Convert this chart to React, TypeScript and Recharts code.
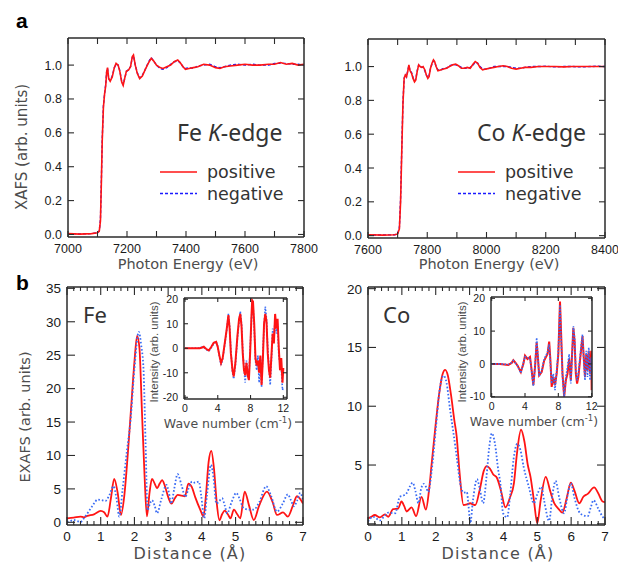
import { LineChart, Line, XAxis, YAxis } from "recharts";

const W = 618;
const H = 565;

type Pt = [number, number];
type Box = { x0: number; y0: number; x1: number; y1: number };
type Side = "bottom" | "top" | "left" | "right";

// ---- XAFS spectra (energy eV, normalised absorption) ----
const feXafsPositive: Pt[] = [
  [7000, 0.005], [7040, 0.002], [7080, 0.005], [7100, 0.01], [7106, 0.02], [7110, 0.08],
  [7113, 0.3], [7116, 0.55], [7120, 0.75], [7124, 0.83], [7128, 0.88], [7131, 0.96],
  [7134, 0.985], [7138, 0.92], [7143, 0.905], [7150, 0.93], [7157, 0.985], [7163, 1.01],
  [7170, 1.0], [7176, 0.96], [7182, 0.9], [7187, 0.88], [7192, 0.92], [7198, 0.965],
  [7205, 0.97], [7212, 0.99], [7218, 1.05], [7222, 1.06], [7228, 1.0], [7235, 0.95],
  [7243, 0.92], [7252, 0.935], [7262, 0.975], [7272, 1.01], [7282, 1.04], [7290, 1.025],
  [7300, 1.0], [7312, 0.985], [7322, 0.98], [7335, 0.99], [7348, 1.0], [7360, 1.02],
  [7372, 1.03], [7380, 1.015], [7390, 0.99], [7398, 0.975], [7410, 0.98], [7425, 0.985],
  [7440, 0.99], [7460, 1.005], [7480, 1.0], [7500, 0.985], [7515, 0.98], [7530, 0.99],
  [7550, 0.995], [7575, 1.0], [7600, 1.005], [7625, 1.0], [7650, 1.0], [7680, 1.005],
  [7700, 1.005], [7720, 1.015], [7740, 1.005], [7760, 1.01], [7780, 1.0], [7800, 1.005],
];
const feXafsNegative: Pt[] = [
  [7000, 0.004], [7040, 0.003], [7080, 0.005], [7100, 0.01], [7106, 0.02], [7110, 0.09],
  [7113, 0.31], [7116, 0.56], [7120, 0.76], [7124, 0.83], [7128, 0.89], [7131, 0.96],
  [7134, 0.98], [7138, 0.92], [7143, 0.91], [7150, 0.935], [7157, 0.985], [7163, 1.005],
  [7170, 1.0], [7176, 0.965], [7182, 0.905], [7187, 0.885], [7192, 0.92], [7198, 0.96],
  [7205, 0.975], [7212, 0.99], [7218, 1.045], [7222, 1.055], [7228, 1.0], [7235, 0.955],
  [7243, 0.925], [7252, 0.94], [7262, 0.975], [7272, 1.015], [7282, 1.045], [7290, 1.025],
  [7300, 1.0], [7312, 0.98], [7322, 0.975], [7335, 0.985], [7348, 1.005], [7360, 1.02],
  [7372, 1.025], [7380, 1.015], [7390, 0.99], [7398, 0.98], [7410, 0.985], [7425, 0.98],
  [7440, 0.995], [7460, 1.0], [7480, 1.005], [7500, 0.99], [7515, 0.985], [7530, 0.99],
  [7550, 1.0], [7575, 1.005], [7600, 1.0], [7625, 1.005], [7650, 1.0], [7680, 1.0],
  [7700, 1.01], [7720, 1.01], [7740, 1.01], [7760, 1.005], [7780, 1.005], [7800, 1.0],
];
const coXafsPositive: Pt[] = [
  [7600, 0.005], [7650, 0.003], [7690, 0.005], [7700, 0.01], [7706, 0.04], [7710, 0.2],
  [7714, 0.5], [7718, 0.78], [7722, 0.93], [7726, 0.95], [7730, 0.94], [7734, 0.97],
  [7738, 1.01], [7742, 0.975], [7747, 0.96], [7752, 0.93], [7757, 0.91], [7761, 0.92],
  [7766, 0.97], [7771, 1.01], [7776, 1.0], [7781, 0.995], [7786, 1.0], [7792, 0.98],
  [7797, 0.95], [7802, 0.93], [7806, 0.94], [7811, 0.99], [7816, 1.02], [7821, 1.04],
  [7825, 1.03], [7830, 1.0], [7836, 0.975], [7845, 0.98], [7855, 0.985], [7865, 0.99],
  [7875, 1.0], [7886, 1.01], [7896, 1.015], [7905, 1.005], [7915, 0.99], [7925, 0.99],
  [7935, 0.995], [7945, 0.99], [7955, 1.015], [7962, 1.03], [7970, 1.02], [7978, 0.995],
  [7987, 0.98], [7997, 0.985], [8010, 0.99], [8025, 0.995], [8040, 1.0], [8056, 1.005],
  [8070, 1.0], [8085, 0.99], [8100, 0.985], [8115, 0.99], [8130, 0.995], [8150, 0.995],
  [8175, 1.0], [8200, 1.0], [8230, 1.0], [8260, 0.998], [8290, 1.0], [8320, 1.0],
  [8350, 1.0], [8375, 1.0], [8400, 1.0],
];
const coXafsNegative: Pt[] = [
  [7600, 0.004], [7650, 0.004], [7690, 0.005], [7700, 0.012], [7706, 0.05], [7710, 0.22],
  [7714, 0.52], [7718, 0.79], [7722, 0.93], [7726, 0.955], [7730, 0.94], [7734, 0.975],
  [7738, 1.005], [7742, 0.975], [7747, 0.965], [7752, 0.935], [7757, 0.915], [7761, 0.925],
  [7766, 0.975], [7771, 1.01], [7776, 1.0], [7781, 0.995], [7786, 0.995], [7792, 0.975],
  [7797, 0.95], [7802, 0.935], [7806, 0.945], [7811, 0.99], [7816, 1.015], [7821, 1.035],
  [7825, 1.025], [7830, 1.0], [7836, 0.98], [7845, 0.98], [7855, 0.99], [7865, 0.99],
  [7875, 1.005], [7886, 1.01], [7896, 1.01], [7905, 1.005], [7915, 0.995], [7925, 0.99],
  [7935, 0.99], [7945, 0.995], [7955, 1.01], [7962, 1.025], [7970, 1.02], [7978, 1.0],
  [7987, 0.985], [7997, 0.985], [8010, 0.99], [8025, 1.0], [8040, 1.0], [8056, 1.0],
  [8070, 1.0], [8085, 0.995], [8100, 0.99], [8115, 0.99], [8130, 0.995], [8150, 1.0],
  [8175, 1.0], [8200, 1.002], [8230, 0.998], [8260, 1.0], [8290, 1.0], [8320, 0.998],
  [8350, 1.0], [8375, 1.002], [8400, 1.0],
];

// ---- EXAFS Fourier transforms (distance Å, magnitude) ----
const feExafsPositive: Pt[] = [
  [0, 0.6], [0.2, 0.7], [0.4, 0.85], [0.5, 0.75], [0.6, 0.95], [0.8, 1.2], [1.0, 1.7],
  [1.1, 1.5], [1.2, 0.85], [1.3, 3.5], [1.4, 6.5], [1.5, 4.5], [1.6, 1.1], [1.7, 4],
  [1.8, 10], [1.9, 17], [2.0, 24], [2.08, 27.9], [2.15, 26], [2.22, 17], [2.3, 7],
  [2.37, 0.9], [2.45, 4.5], [2.52, 6.5], [2.6, 5.8], [2.67, 5.1], [2.75, 5.8], [2.82, 6.3],
  [2.9, 5.5], [3.0, 3.8], [3.1, 2.8], [3.2, 3.6], [3.28, 4.1], [3.4, 4.0], [3.5, 3.9],
  [3.6, 5.8], [3.7, 5.3], [3.8, 3.8], [3.96, 1.8], [4.05, 0.85], [4.12, 4], [4.2, 9],
  [4.28, 10.7], [4.36, 8], [4.44, 3], [4.52, 0.3], [4.6, 1.2], [4.68, 1.75], [4.77, 1.2],
  [4.85, 0.6], [4.95, 1.9], [5.05, 1.2], [5.14, 0.6], [5.27, 4.6], [5.4, 2.5], [5.54, 0.35],
  [5.7, 2.5], [5.93, 4.6], [6.1, 3], [6.23, 1.1], [6.41, 1.5], [6.55, 0.85], [6.7, 2.5],
  [6.82, 3.9], [6.9, 3.6], [7, 2.8],
];
const feExafsNegative: Pt[] = [
  [0, 0.05], [0.1, 0.2], [0.2, 0.35], [0.3, 0.2], [0.4, 0.05], [0.5, 0.6], [0.64, 1.6],
  [0.8, 2.8], [0.9, 3.4], [1.05, 3.3], [1.14, 3.2], [1.25, 4.0], [1.38, 5.4], [1.47, 3.5],
  [1.55, 0.85], [1.65, 5], [1.78, 10.8], [1.88, 15], [2.0, 23], [2.13, 28.5], [2.2, 26.5],
  [2.27, 22.8], [2.33, 12], [2.39, 1.8], [2.46, 2.8], [2.52, 3.3], [2.6, 2.5], [2.67, 1.35],
  [2.8, 3.5], [2.95, 5.6], [3.02, 4.5], [3.09, 2.8], [3.18, 5], [3.28, 7.2], [3.4, 5.5],
  [3.51, 3.8], [3.6, 5], [3.71, 6.1], [3.8, 5.9], [3.91, 6.1], [3.98, 4], [4.07, 0.6],
  [4.15, 4], [4.27, 8.6], [4.35, 6.5], [4.43, 2.8], [4.52, 3.2], [4.6, 3.6], [4.68, 2.5],
  [4.75, 1.35], [4.88, 3], [5.02, 4.4], [5.12, 3.5], [5.24, 2.1], [5.4, 1.9], [5.54, 1.9],
  [5.7, 3], [5.91, 5.4], [6.05, 4], [6.23, 1.6], [6.4, 2.8], [6.55, 4.2], [6.65, 3.2],
  [6.73, 2.4], [6.82, 3.2], [6.92, 4.4], [7, 3.3],
];
const coExafsPositive: Pt[] = [
  [0, 0.45], [0.1, 0.6], [0.2, 0.75], [0.35, 0.55], [0.5, 0.8], [0.6, 0.6], [0.74, 1.25],
  [0.89, 1.3], [0.99, 1.9], [1.07, 1.5], [1.14, 1.05], [1.29, 1.4], [1.42, 0.65], [1.58, 2.3],
  [1.71, 1.2], [1.8, 2.8], [1.88, 5.1], [2.0, 8.5], [2.1, 11], [2.2, 12.7], [2.28, 13.1],
  [2.36, 12.6], [2.45, 11], [2.55, 8.8], [2.62, 7.4], [2.7, 4.5], [2.82, 1.6], [2.92, 1.65],
  [3.02, 1.75], [3.1, 1.65], [3.17, 1.6], [3.3, 2.9], [3.42, 4.5], [3.51, 4.9], [3.6, 4.7],
  [3.7, 4.2], [3.81, 3.9], [3.92, 2.9], [4.06, 1.4], [4.2, 2.3], [4.31, 3.45], [4.4, 6],
  [4.52, 8.0], [4.62, 7], [4.72, 5], [4.8, 4.0], [4.9, 2], [5.0, 0.05], [5.1, 2], [5.25, 4.0],
  [5.38, 2.8], [5.5, 1.75], [5.62, 1.3], [5.74, 0.95], [5.87, 2.2], [5.99, 3.5], [6.1, 2.8],
  [6.24, 1.75], [6.36, 2.3], [6.49, 2.55], [6.68, 3.1], [6.8, 2.6], [6.93, 1.9], [7, 1.85],
];
const coExafsNegative: Pt[] = [
  [0, 0.2], [0.15, 0.6], [0.35, 0.3], [0.47, 0.6], [0.6, 0.95], [0.8, 0.9], [0.94, 2.3],
  [1.04, 2.4], [1.14, 2.6], [1.24, 3.2], [1.32, 3.5], [1.4, 2.8], [1.49, 1.75], [1.57, 3],
  [1.65, 3.4], [1.72, 3.1], [1.78, 2.7], [1.88, 4.5], [2.0, 8], [2.12, 11.5], [2.23, 12.6],
  [2.32, 12], [2.42, 9.8], [2.52, 7.8], [2.62, 5.7], [2.72, 3.5], [2.82, 2.65], [2.92, 2.7],
  [2.97, 1.5], [3.02, 0.05], [3.1, 2], [3.22, 3.8], [3.3, 3], [3.4, 1.75], [3.5, 4],
  [3.58, 6.5], [3.66, 7.7], [3.75, 6.8], [3.85, 4.5], [3.91, 3.45], [3.99, 0.9], [4.11, 0.55],
  [4.2, 2.5], [4.3, 5.5], [4.41, 6.8], [4.5, 6.3], [4.6, 4.8], [4.75, 3.15], [4.9, 1.75],
  [5.0, 2.5], [5.12, 3.15], [5.2, 2], [5.35, 0.25], [5.45, 2.5], [5.54, 3.65], [5.65, 2.2],
  [5.79, 0.9], [5.9, 2.5], [5.99, 3.45], [6.1, 2.2], [6.22, 1.1], [6.34, 0.75], [6.49, 0.65],
  [6.58, 1.4], [6.66, 2.0], [6.8, 1.3], [6.93, 0.6], [7, 0.4],
];

// ---- k-space oscillations for the insets (wave number, intensity) ----
const feKPositive: Pt[] = [
  [0, 0], [1, 0], [1.8, 0], [2.1, 0.3], [2.3, 0.6], [2.6, -0.3], [2.9, -0.9], [3.2, 0.5],
  [3.5, 2.2], [3.8, 2.6], [4.0, 0.5], [4.2, -3], [4.4, -6], [4.6, -4], [4.85, 2], [5.1, 8],
  [5.3, 13.5], [5.45, 8], [5.6, -2], [5.8, -9], [5.95, -11.5], [6.15, -6], [6.4, 5], [6.6, 12],
  [6.75, 14], [6.9, 9], [7.05, -2], [7.2, -9], [7.35, -11], [7.5, -6], [7.65, -11], [7.8, -13],
  [7.95, -2], [8.1, 12], [8.2, 19.5], [8.3, 19], [8.45, 10], [8.6, -4], [8.75, -7], [8.9, -5],
  [9.05, -10], [9.2, -3], [9.35, -15], [9.5, -5], [9.65, 10], [9.8, 14], [9.95, 11], [10.1, -2],
  [10.25, -9], [10.4, -12], [10.55, -3], [10.7, 6], [10.85, 2], [11.0, 14], [11.15, 8],
  [11.3, 12], [11.45, 0], [11.6, -9], [11.75, -4], [11.9, -14], [12, -8],
];
const feKNegative: Pt[] = [
  [0, 0], [1, 0], [1.8, 0.1], [2.1, 0.5], [2.3, 0.3], [2.6, -0.5], [2.9, -1.2], [3.2, 0.2],
  [3.5, 1.8], [3.8, 2.8], [4.0, 0.8], [4.2, -3.5], [4.4, -6.8], [4.6, -4.5], [4.85, 1.5],
  [5.1, 7.5], [5.3, 14], [5.45, 9], [5.6, -1], [5.8, -10], [5.95, -12.5], [6.15, -7], [6.4, 4],
  [6.6, 11], [6.75, 15], [6.9, 10], [7.05, -1], [7.2, -8], [7.35, -14], [7.5, -5], [7.65, -9],
  [7.8, -12], [7.95, 0], [8.1, 10], [8.2, 19], [8.3, 18], [8.45, 8], [8.6, -5], [8.75, -9],
  [8.9, -3], [9.05, -14], [9.2, -4], [9.35, -16], [9.5, -2], [9.65, 9], [9.8, 17], [9.95, 12],
  [10.1, 0], [10.25, -8], [10.4, -15], [10.55, -5], [10.7, 8], [10.85, 4], [11.0, 12],
  [11.15, 6], [11.3, 10], [11.45, -3], [11.6, -6], [11.75, -8], [11.9, -17], [12, -16],
];
const coKPositive: Pt[] = [
  [0, 0], [1, 0], [2, -0.3], [2.4, 0.3], [2.6, 1.1], [2.8, 0.5], [3.1, -0.5], [3.5, -2.5],
  [3.8, 0], [4.0, 2.5], [4.3, 1.5], [4.6, 2.1], [4.8, -2], [5.0, -6.5], [5.2, -1], [5.4, 6.5],
  [5.55, 2], [5.7, -3.5], [6.0, -2.5], [6.3, 1], [6.5, 2], [6.7, 3], [6.9, 6.8], [7.05, 1],
  [7.2, -7], [7.4, -4], [7.6, -6.5], [7.8, -3], [8.0, 3], [8.2, 19], [8.35, 8], [8.5, -3],
  [8.7, -10], [8.9, -5], [9.1, -3], [9.3, 1.5], [9.5, -5], [9.65, 3], [9.8, 11], [9.95, 7],
  [10.1, -3], [10.25, -6], [10.4, -4], [10.6, 1], [10.8, 6], [10.9, 8.5], [11.05, 2],
  [11.2, -4], [11.35, 3], [11.5, -2], [11.65, 4], [11.8, -3], [11.95, 4], [12, -8],
];
const coKNegative: Pt[] = [
  [0, 0], [1, 0], [2, -0.2], [2.4, 0.4], [2.6, 1.0], [2.8, 0.4], [3.1, -0.6], [3.5, -2.8],
  [3.8, 0.2], [4.0, 2.2], [4.3, 1.8], [4.6, 1.8], [4.8, -2.5], [5.0, -6.8], [5.2, -1],
  [5.4, 8], [5.55, 2.5], [5.7, -3.8], [6.0, -2], [6.3, 1.5], [6.5, 2.5], [6.7, 3.5], [6.9, 6],
  [7.05, 0], [7.2, -6], [7.4, -3], [7.6, -8], [7.8, -2], [8.0, 4], [8.2, 18], [8.35, 7],
  [8.5, -4], [8.7, -10], [8.9, -4], [9.1, -1], [9.3, 3], [9.5, -6], [9.65, 2], [9.8, 11.5],
  [9.95, 8], [10.1, -2], [10.25, -5], [10.4, -3], [10.6, 2], [10.8, 7], [10.9, 9], [11.05, 1],
  [11.2, -5], [11.35, 4], [11.5, -4], [11.65, 5], [11.8, -5], [11.95, 2], [12, -3],
];

// ---- ticks ----
const feEnergyTicks = [7000, 7100, 7200, 7300, 7400, 7500, 7600, 7700, 7800];
const coEnergyTicks = [7600, 7700, 7800, 7900, 8000, 8100, 8200, 8300, 8400];
const xafsTicks = [0, 0.2, 0.4, 0.6, 0.8, 1.0];
const distanceTicks = Array.from({ length: 36 }, (_, i) => +(i * 0.2).toFixed(1));
const feExafsTicks = [0, 5, 10, 15, 20, 25, 30, 35];
const coExafsTicks = [0, 5, 10, 15, 20];
const waveTicks = [0, 4, 8, 12];
const feKTicks = [-20, -10, 0, 10, 20];
const coKTicks = [-10, 0, 10, 20];

const RED = "#ff1414";
const BLUE_A = "#1a1aff";
const BLUE_B = "#3a6cf4";
const FRAME = "#2b2b2b";
const TICK_FONT = "'Liberation Sans', Arial, sans-serif";
const TITLE_FONT = "'DejaVu Sans', sans-serif";
const NOTE_FONT = "'Noto Sans', 'DejaVu Sans', sans-serif";
const TITLE_COLOR = "#4d4d4d";

type Series = { pts: Pt[]; color: string; width: number; dash?: string; curve: "linear" | "monotone" };

type TickSpec = {
  len: (v: number) => number;
  label: (v: number) => string;
  size: number;
  gap: number;
};

function makeTick(box: Box, side: Side, spec: TickSpec) {
  return (props: any) => {
    const v: number = props.payload.value;
    const L = spec.len(v);
    const t = side === "bottom" || side === "left" ? spec.label(v) : "";
    if (side === "bottom" || side === "top") {
      const x = props.x;
      const edge = side === "bottom" ? box.y1 : box.y0;
      const s = side === "bottom" ? -1 : 1;
      return (
        <g>
          <line x1={x} x2={x} y1={edge} y2={edge + s * L} stroke={FRAME} strokeWidth={1.1} />
          {t ? (
            <text x={x} y={box.y1 + spec.gap} textAnchor="middle" fontSize={spec.size} fontFamily={TICK_FONT} fill="#1a1a1a">
              {t}
            </text>
          ) : null}
        </g>
      );
    }
    const y = props.y;
    const edge = side === "left" ? box.x0 : box.x1;
    const s = side === "left" ? 1 : -1;
    return (
      <g>
        <line x1={edge} x2={edge + s * L} y1={y} y2={y} stroke={FRAME} strokeWidth={1.1} />
        {t ? (
          <text x={box.x0 - spec.gap} y={y} dy="0.36em" textAnchor="end" fontSize={spec.size} fontFamily={TICK_FONT} fill="#1a1a1a">
            {t}
          </text>
        ) : null}
      </g>
    );
  };
}

function Panel({
  box,
  xDomain,
  yDomain,
  xTicks,
  yTicks,
  xSpec,
  ySpec,
  series,
}: {
  box: Box;
  xDomain: [number, number];
  yDomain: [number, number];
  xTicks: number[];
  yTicks: number[];
  xSpec: TickSpec;
  ySpec: TickSpec;
  series: Series[];
}) {
  const margin = { left: box.x0 - 1, right: W - box.x1 - 1, top: box.y0 - 1, bottom: H - box.y1 - 1 };
  const axisLine = { stroke: FRAME, strokeWidth: 1.5 };
  return (
    <div style={{ position: "absolute", left: 0, top: 0 }}>
      <LineChart width={W} height={H} margin={margin}>
        <XAxis xAxisId="b" dataKey="x" type="number" domain={xDomain} allowDataOverflow ticks={xTicks} interval={0}
          height={1} axisLine={axisLine} tickLine={false} tick={makeTick(box, "bottom", xSpec)} />
        <XAxis xAxisId="t" orientation="top" dataKey="x" type="number" domain={xDomain} allowDataOverflow ticks={xTicks}
          interval={0} height={1} axisLine={axisLine} tickLine={false} tick={makeTick(box, "top", xSpec)} />
        <YAxis yAxisId="l" type="number" domain={yDomain} allowDataOverflow ticks={yTicks} interval={0} width={1}
          axisLine={axisLine} tickLine={false} tick={makeTick(box, "left", ySpec)} />
        <YAxis yAxisId="r" orientation="right" type="number" domain={yDomain} allowDataOverflow ticks={yTicks}
          interval={0} width={1} axisLine={axisLine} tickLine={false} tick={makeTick(box, "right", ySpec)} />
        {series.map((s, i) => (
          <Line
            key={i}
            xAxisId="b"
            yAxisId="l"
            data={s.pts.map(([x, y]) => ({ x, y }))}
            dataKey="y"
            type={s.curve}
            stroke={s.color}
            strokeWidth={s.width}
            strokeDasharray={s.dash}
            dot={false}
            isAnimationActive={false}
          />
        ))}
      </LineChart>
    </div>
  );
}

const isInt = (v: number) => Math.abs(v - Math.round(v)) < 1e-6;

const energySpec: TickSpec = { len: () => 6, label: (v) => (v % 200 === 0 ? String(v) : ""), size: 12.5, gap: 15.5 };
const xafsSpec: TickSpec = { len: () => 6, label: (v) => v.toFixed(1), size: 12.5, gap: 6 };
const distSpec: TickSpec = { len: (v) => (isInt(v) ? 8 : 4), label: (v) => (isInt(v) ? String(Math.round(v)) : ""), size: 13.5, gap: 16 };
const feYSpec: TickSpec = { len: () => 8, label: (v) => String(v), size: 13.5, gap: 6 };
const coYSpec: TickSpec = { len: () => 8, label: (v) => (v === 0 ? "" : String(v)), size: 13.5, gap: 6 };
const waveSpec: TickSpec = { len: () => 4, label: (v) => String(v), size: 10.5, gap: 12.5 };
const kYSpec: TickSpec = { len: () => 4, label: (v) => String(v), size: 10.5, gap: 6 };

const boxAFe: Box = { x0: 68, y0: 38, x1: 304, y1: 237 };
const boxACo: Box = { x0: 368, y0: 39, x1: 605, y1: 238 };
const boxBFe: Box = { x0: 67, y0: 287, x1: 303, y1: 525 };
const boxBCo: Box = { x0: 368, y0: 287, x1: 605, y1: 525 };
const boxKFe: Box = { x0: 184, y0: 298, x1: 287, y1: 399 };
const boxKCo: Box = { x0: 491, y0: 297, x1: 592, y1: 397 };

function VText({ x, y, size, font, children }: { x: number; y: number; size: number; font: string; children: React.ReactNode }) {
  return (
    <text x={x} y={y} transform={`rotate(-90 ${x} ${y})`} textAnchor="middle" fontSize={size} fontFamily={font} fill={TITLE_COLOR}>
      {children}
    </text>
  );
}

function LegendBlock({ x, y }: { x: number; y: number }) {
  return (
    <g fontFamily={TITLE_FONT} fontSize={17.5} fill="#333">
      <line x1={x} x2={x + 37} y1={y} y2={y} stroke={RED} strokeWidth={1.6} />
      <text x={x + 47} y={y + 6}>positive</text>
      <line x1={x} x2={x + 37} y1={y + 21.5} y2={y + 21.5} stroke={BLUE_A} strokeWidth={1.4} strokeDasharray="3 2" />
      <text x={x + 47} y={y + 27.5}>negative</text>
    </g>
  );
}

function Overlay() {
  return (
    <svg width={W} height={H} style={{ position: "absolute", left: 0, top: 0, pointerEvents: "none" }}>
      <text x={16} y={28} fontSize={21} fontWeight="bold" fontFamily={TICK_FONT} fill="#000">a</text>
      <text x={16} y={290} fontSize={21} fontWeight="bold" fontFamily={TICK_FONT} fill="#000">b</text>

      <VText x={27} y={147} size={15} font={TITLE_FONT}>XAFS (arb. units)</VText>
      <VText x={30} y={417} size={14.5} font={TITLE_FONT}>EXAFS (arb. units)</VText>
      <VText x={158} y={352} size={11.5} font={TICK_FONT}>Intensity (arb. units)</VText>
      <VText x={466} y={352} size={11.5} font={TICK_FONT}>Intensity (arb. units)</VText>

      <g fontFamily={TITLE_FONT} fontSize={14.5} fill={TITLE_COLOR} textAnchor="middle">
        <text x={188} y={269}>Photon Energy (eV)</text>
        <text x={489} y={269}>Photon Energy (eV)</text>
        <text x={190} y={559} fontSize={16} letterSpacing={1.2}>Distance (Å)</text>
        <text x={498} y={559} fontSize={16} letterSpacing={1.2}>Distance (Å)</text>
        <text x={228} y={428} fontSize={12.5}>
          Wave number (cm<tspan dy={-5} fontSize={8.5}>-1</tspan><tspan dy={5}>)</tspan>
        </text>
        <text x={534} y={426} fontSize={12.5}>
          Wave number (cm<tspan dy={-5} fontSize={8.5}>-1</tspan><tspan dy={5}>)</tspan>
        </text>
      </g>

      <g fontFamily={NOTE_FONT} fontSize={23} fill="#333">
        <text x={177} y={141}>Fe <tspan fontStyle="italic">K</tspan>-edge</text>
        <text x={477} y={141}>Co <tspan fontStyle="italic">K</tspan>-edge</text>
        <text x={83} y={323} fontSize={22}>Fe</text>
        <text x={383} y={323} fontSize={22}>Co</text>
      </g>

      <LegendBlock x={160} y={172} />
      <LegendBlock x={458} y={172} />
    </svg>
  );
}

export default function App() {
  return (
    <div style={{ position: "absolute", left: 0, top: 0, width: W, height: H, background: "#fff" }}>
      <Panel
        box={boxAFe}
        xDomain={[7000, 7800]}
        yDomain={[-0.015, 1.16]}
        xTicks={feEnergyTicks}
        yTicks={xafsTicks}
        xSpec={energySpec}
        ySpec={xafsSpec}
        series={[
          { pts: feXafsNegative, color: BLUE_A, width: 1.4, dash: "3 2", curve: "linear" },
          { pts: feXafsPositive, color: RED, width: 1.6, curve: "linear" },
        ]}
      />
      <Panel
        box={boxACo}
        xDomain={[7600, 8400]}
        yDomain={[-0.014, 1.163]}
        xTicks={coEnergyTicks}
        yTicks={xafsTicks}
        xSpec={energySpec}
        ySpec={xafsSpec}
        series={[
          { pts: coXafsNegative, color: BLUE_A, width: 1.4, dash: "3 2", curve: "linear" },
          { pts: coXafsPositive, color: RED, width: 1.6, curve: "linear" },
        ]}
      />
      <Panel
        box={boxBFe}
        xDomain={[0, 7]}
        yDomain={[-0.4, 35.2]}
        xTicks={distanceTicks}
        yTicks={feExafsTicks}
        xSpec={distSpec}
        ySpec={feYSpec}
        series={[
          { pts: feExafsPositive, color: RED, width: 1.8, curve: "monotone" },
          { pts: feExafsNegative, color: BLUE_B, width: 1.8, dash: "1.6 2", curve: "monotone" },
        ]}
      />
      <Panel
        box={boxBCo}
        xDomain={[0, 7]}
        yDomain={[-0.1, 20.14]}
        xTicks={distanceTicks}
        yTicks={coExafsTicks}
        xSpec={distSpec}
        ySpec={coYSpec}
        series={[
          { pts: coExafsPositive, color: RED, width: 1.8, curve: "monotone" },
          { pts: coExafsNegative, color: BLUE_B, width: 1.8, dash: "1.6 2", curve: "monotone" },
        ]}
      />
      <Panel
        box={boxKFe}
        xDomain={[-0.12, 12.45]}
        yDomain={[-20.7, 20.5]}
        xTicks={waveTicks}
        yTicks={feKTicks}
        xSpec={waveSpec}
        ySpec={kYSpec}
        series={[
          { pts: feKNegative, color: BLUE_B, width: 1.6, dash: "1.6 1.6", curve: "linear" },
          { pts: feKPositive, color: RED, width: 2, curve: "linear" },
        ]}
      />
      <Panel
        box={boxKCo}
        xDomain={[-0.08, 12.04]}
        yDomain={[-10.1, 20.4]}
        xTicks={waveTicks}
        yTicks={coKTicks}
        xSpec={waveSpec}
        ySpec={kYSpec}
        series={[
          { pts: coKPositive, color: RED, width: 2, curve: "linear" },
          { pts: coKNegative, color: BLUE_B, width: 1.6, dash: "1.6 1.6", curve: "linear" },
        ]}
      />
      <Overlay />
    </div>
  );
}
